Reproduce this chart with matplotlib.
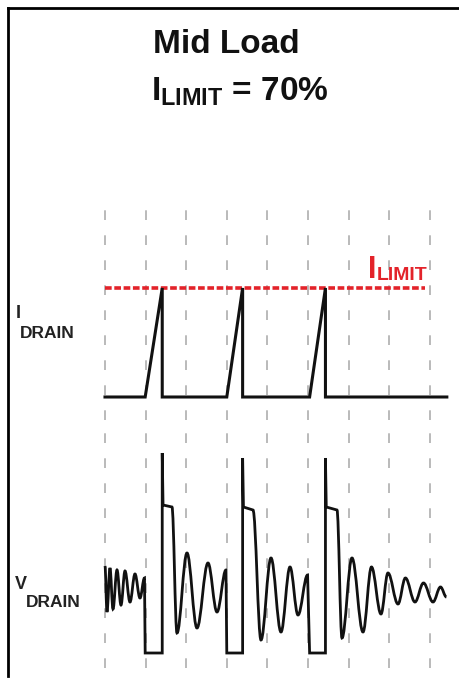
import matplotlib
matplotlib.use('Agg')
import matplotlib.pyplot as plt
from matplotlib.path import Path
from matplotlib.patches import PathPatch
from matplotlib.lines import Line2D

# time axis in scope divisions
grid_t = [0, 1, 2, 3, 4, 5, 6, 7, 8]

# drain current, % (limit = 70 %)
i_limit = 70
limit_t = [0.0, 7.88]
i_t = [0.0, 0.99, 1.41, 1.41, 3.0, 3.39, 3.39, 5.04, 5.43, 5.43, 8.42]
i_val = [0, 0, 70, 0, 0, 70, 0, 0, 70, 0, 0]

# drain voltage, arbitrary units; seg: L = straight edge, S = smooth ringing
v_t = [0.0, 0.049, 0.123, 0.197, 0.296, 0.394, 0.493, 0.616, 0.739, 0.862, 0.973, 0.99,
       1.41, 1.41, 1.43, 1.65, 1.773, 2.02, 2.266, 2.537, 2.759, 2.98, 3.0,
       3.39, 3.39, 3.41, 3.645, 3.842, 4.089, 4.335, 4.557, 4.754, 4.99, 5.04,
       5.43, 5.43, 5.45, 5.714, 5.837, 6.084, 6.355, 6.564, 6.798, 6.97, 7.217,
       7.40, 7.635, 7.845, 8.079, 8.264, 8.41]
v_val = [43.5, 20.5, 42.5, 22, 41.5, 24, 41, 25.5, 39.5, 27.5, 37.5, 0,
         0, 100, 74, 73, 10, 50, 12.5, 45, 20.5, 41.5, 0,
         0, 97.5, 73, 71.5, 6.5, 47.5, 10.5, 43, 19, 39, 0,
         0, 97.5, 73, 71.5, 7.5, 47.5, 10.5, 43, 19.5, 40, 24.5,
         37.5, 25.5, 35, 25.5, 33, 28]
v_seg = 'M' + 'S' * 10 + 'L' + 'LLLL' + 'S' * 6 + 'L' + 'LLLL' + 'S' * 6 + 'L' + 'LLLL' + 'S' * 13

plt.rcParams['lines.scale_dashes'] = False
plt.rcParams['mathtext.fontset'] = 'custom'
plt.rcParams['mathtext.rm'] = 'Liberation Sans'
plt.rcParams['mathtext.bf'] = 'Liberation Sans:bold'

W, H = 460, 679
fig = plt.figure(figsize=(W / 100, H / 100), dpi=100)

def fx(px):
    return px / W

def fy(py):
    return 1 - py / H

red = '#e3232a'
ink = '#111111'
gridc = '#b4b4b4'
grid_ls = (0, (7, 11))

ax1 = fig.add_axes([fx(95), fy(420), fx(360), 220 / H])
ax2 = fig.add_axes([fx(95), 0, fx(360), 259 / H])
for ax in (ax1, ax2):
    ax.set_xlim(-0.246, 8.621)
    ax.axis('off')
ax1.set_ylim(-14.77, 126.5)
ax2.set_ylim(-13, 116.5)

# dashed vertical divisions
ax1.vlines(grid_t, -14.77, 123.3, colors=gridc, linewidth=1.3, linestyles=[grid_ls])
ax2.vlines(grid_t, -7.5, 116.5, colors=gridc, linewidth=1.3, linestyles=[grid_ls])

# current limit and drain current
ax1.hlines(i_limit, limit_t[0], limit_t[1], colors=red, linewidth=2.6,
           linestyles=[(0, (4.8, 1.9))], zorder=3)
ax1.plot(i_t, i_val, color=ink, linewidth=2.2, solid_joinstyle='miter', zorder=4)

# drain voltage as a path (straight edges + smooth ringing)
verts = [(v_t[0], v_val[0])]
codes = [Path.MOVETO]
for k in range(1, len(v_t)):
    t0, y0 = v_t[k - 1], v_val[k - 1]
    t1, y1 = v_t[k], v_val[k]
    if v_seg[k] == 'S':
        dt = t1 - t0
        verts += [(t0 + 0.37 * dt, y0), (t1 - 0.37 * dt, y1), (t1, y1)]
        codes += [Path.CURVE4] * 3
    else:
        verts.append((t1, y1))
        codes.append(Path.LINETO)
ax2.add_patch(PathPatch(Path(verts, codes), facecolor='none', edgecolor=ink,
                        linewidth=2.0, joinstyle='miter', zorder=4))

# frame
fig.add_artist(Line2D([fx(8), fx(460)], [fy(8), fy(8)], color='black', linewidth=2))
fig.add_artist(Line2D([fx(8), fx(8)], [fy(8), fy(676)], color='black', linewidth=2))

# texts
fig.text(fx(226), fy(53), 'Mid Load', ha='center', va='baseline', fontsize=24,
         fontweight='bold', family='Liberation Sans', color=ink)
fig.text(fx(240), fy(100), r'$\mathbf{I}_{\mathbf{LIMIT}}$ = 70%', ha='center', va='baseline',
         fontsize=24, fontweight='bold', family='Liberation Sans', color=ink)

lab = dict(family='Liberation Sans', fontweight='bold',
           color='#222222', va='baseline', ha='left')
fig.text(fx(16), fy(318), 'I', fontsize=13, **lab)
fig.text(fx(20), fy(338), 'DRAIN', fontsize=12.5, **lab)
fig.text(fx(15), fy(589), 'V', fontsize=13, **lab)
fig.text(fx(26), fy(607), 'DRAIN', fontsize=12.5, **lab)

fig.text(fx(368), fy(278), 'I', fontsize=22, fontweight='bold', family='Liberation Sans',
         color=red, va='baseline')
fig.text(fx(377), fy(280), 'LIMIT', fontsize=14, fontweight='bold', family='Liberation Sans',
         color=red, va='baseline')

fig.savefig('out.png', dpi=100)
